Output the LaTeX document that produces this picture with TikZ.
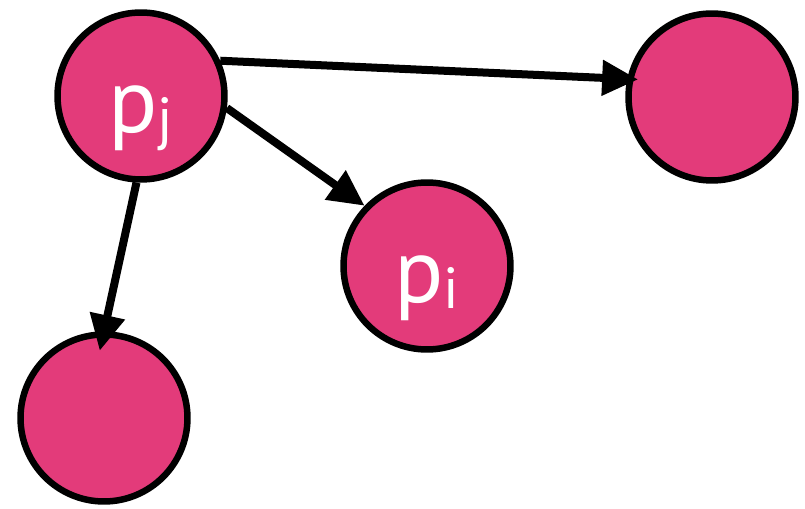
\documentclass[tikz,border=0pt]{standalone}
\usepackage{fontspec}
\setmainfont{PT Sans}
\usetikzlibrary{arrows.meta}
\definecolor{ProcPink}{RGB}{227, 59, 122}
\newcommand{\procsub}[1]{\raisebox{-3pt}{\fontsize{33}{33}\selectfont #1}}

\begin{document}
\begin{tikzpicture}[x=0.02cm, y=-0.02cm,
  proc/.style={circle, draw=black, line width=0.13cm, fill=ProcPink, minimum size=3.34cm,
    inner sep=0pt, text=white, font=\fontsize{52}{52}\selectfont, text height=1.48cm, text depth=0pt},
  msg/.style={-{Triangle[length=0.72cm, width=0.68cm]}, line width=0.16cm}]
\useasboundingbox (0,0) rectangle (805,509);
% processes
\node[proc] (pj) at (141,96) {p\procsub{j}};
\node[proc] (pi) at (427,266) {p\procsub{i}};
\node[proc] (pa) at (712,97) {};
\node[proc] (pb) at (104,418) {};
% messages sent by pj
\draw[msg, shorten >=-0.22cm] (pj.24) -- (pa.168);
\draw[msg] (pj.-8) -- (pi.136);
\draw[msg, shorten >=-0.4cm] (pj.-93) -- (pb.90);
\end{tikzpicture}
\end{document}
